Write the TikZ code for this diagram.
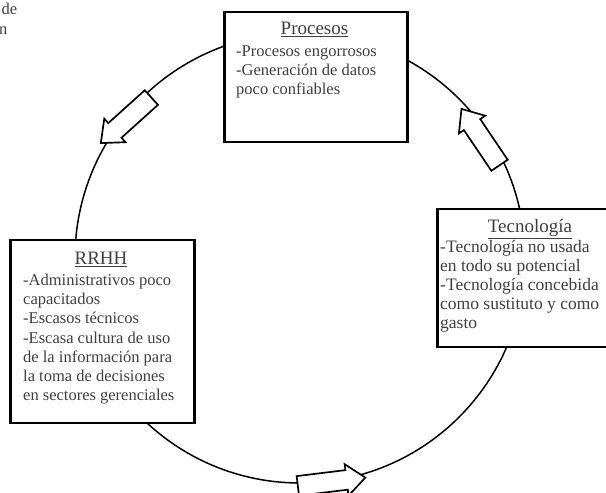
\documentclass[tikz,border=0pt]{standalone}
\usepackage{fontspec}
\setmainfont{Liberation Serif}
\usetikzlibrary{positioning,shapes.arrows}

\begin{document}
\begin{tikzpicture}[x=1pt,y=1pt,
    boxnode/.style={rectangle,draw,line width=2.5pt,fill=white,inner sep=0pt,anchor=north west},
    titnode/.style={inner sep=0pt,anchor=base,text=black!75,font=\fontsize{19}{22}\selectfont},
    txtnode/.style={inner sep=0pt,anchor=base west,align=left,text=black!75,font=\fontsize{16.5}{19.3}\selectfont},
    arrnode/.style={single arrow,draw,line width=1.7pt,fill=white,inner xsep=0pt,inner ysep=9pt,minimum height=68pt,single arrow head extend=6pt,single arrow tip angle=80,anchor=tail}]
    \clip (0,0) rectangle (606,493);
    \fill[white] (0,0) rectangle (606,493);

    % cut-off words top left
    \node[txtnode,anchor=base east] (frag1) at (17.5,478) {de};
    \node[txtnode,anchor=base east] (frag2) at (7.5,458) {n};

    % cycle
    \coordinate (ctr) at (300,235);
    \draw[line width=1.5pt] (ctr) circle (225);

    \node[arrnode,rotate=222] (arrtl) at (152,396) {};
    \node[arrnode,rotate=124] (arrr) at (500,327) {};
    \node[arrnode,rotate=7] (arrb) at (297,7) {};

    % Procesos (texts anchored at the baseline of their last line)
    \node[boxnode,minimum width=183,minimum height=130] (procbox) at (223,482) {};
    \node[titnode] (proctit) at (314.5,458) {\underline{Procesos}};
    \node[txtnode] (proctxt) at (236,398) {-Procesos engorrosos\\-Generación de datos\\poco confiables};

    % RRHH
    \node[boxnode,minimum width=184,minimum height=183] (rrhhbox) at (9,254) {};
    \node[titnode] (rrhhtit) at (101,228) {\underline{RRHH}};
    \node[txtnode] (rrhhtxt) at (23,92) {-Administrativos poco\\capacitados\\-Escasos técnicos\\-Escasa cultura de uso\\de la información para\\la toma de decisiones\\en sectores gerenciales};

    % Tecnologia
    \node[boxnode,minimum width=188,minimum height=138] (tecbox) at (436,285) {};
    \node[titnode] (tectit) at (530,260) {\underline{Tecnología}};
    \node[txtnode,font=\fontsize{17.5}{19}\selectfont] (tectxt) at (440,164) {-Tecnología no usada\\en todo su potencial\\-Tecnología concebida\\como sustituto y como\\gasto};
\end{tikzpicture}
\end{document}
